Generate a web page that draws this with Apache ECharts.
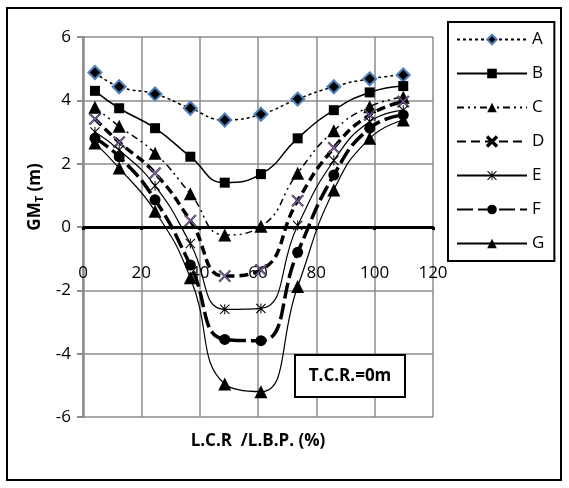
<!DOCTYPE html>
<html>
<head>
<meta charset="utf-8">
<script src="https://cdn.jsdelivr.net/npm/echarts@6/dist/echarts.min.js"></script>
<style>
  html, body { margin: 0; padding: 0; background: #fff; }
  #chart { width: 569px; height: 488px; }
</style>
</head>
<body>
<div id="chart"></div>
<script>
// L.C.R / L.B.P. (%)
const xVals = [4.1, 12.4, 24.7, 36.8, 48.6, 61, 73.6, 86, 98.3, 109.8];
// GM_T (m) for each case
const serA = [4.88, 4.43, 4.2, 3.75, 3.38, 3.56, 4.04, 4.43, 4.68, 4.8];
const serB = [4.3, 3.75, 3.12, 2.22, 1.4, 1.67, 2.8, 3.69, 4.25, 4.45];
const serC = [3.78, 3.18, 2.33, 1.05, -0.25, 0.02, 1.7, 3.04, 3.8, 4.1];
const serD = [3.41, 2.68, 1.7, 0.2, -1.55, -1.36, 0.83, 2.5, 3.54, 3.96];
const serE = [3.0, 2.43, 1.3, -0.52, -2.6, -2.57, 0.05, 2.1, 3.33, 3.69];
const serF = [2.8, 2.22, 0.86, -1.2, -3.55, -3.59, -0.8, 1.64, 3.12, 3.54];
const serG = [2.65, 1.86, 0.5, -1.6, -4.96, -5.2, -1.88, 1.17, 2.8, 3.38];
const names = ['A', 'B', 'C', 'D', 'E', 'F', 'G'];

const FONT = 'Open Sans';
const xMark = 'path://M0,2 L2,0 L10,8 L18,0 L20,2 L12,10 L20,18 L18,20 L10,12 L2,20 L0,18 L8,10 Z';
const starMark = 'path://M0,1.5 L1.5,0 L10,8.5 L18.5,0 L20,1.5 L11.5,10 L20,18.5 L18.5,20 L10,11.5 L1.5,20 L0,18.5 L8.5,10 Z M9,0 L11,0 L11,20 L9,20 Z';

function pairs(ys) {
    return ys.map((y, i) => [xVals[i], y]);
}

function mkSeries(name, ys, symbol, size, line, item) {
    return {
        name: name,
        type: 'line',
        smooth: 0.5,
        data: pairs(ys),
        symbol: symbol,
        symbolSize: size,
        lineStyle: line,
        itemStyle: item,
        emphasis: { disabled: true }
    };
}

const chart = echarts.init(document.getElementById('chart'));
const option = {
    animation: false,
    grid: { left: 83, top: 37, right: 136, bottom: 71 },
    legend: {
        orient: 'vertical',
        left: 448,
        top: 22,
        padding: [9, 10, 9, 8],
        itemWidth: 70,
        itemHeight: 12,
        itemGap: 17,
        borderColor: '#000',
        borderWidth: 2,
        textStyle: { fontFamily: FONT, fontSize: 17, color: '#000' },
        data: names
    },
    xAxis: {
        type: 'value',
        min: 0, max: 120, interval: 20,
        axisLine: { onZero: true, lineStyle: { color: '#000', width: 3 } },
        axisTick: { show: true, inside: false, length: 3, lineStyle: { color: '#000', width: 3 } },
        axisLabel: { margin: -152, fontFamily: FONT, fontSize: 17, color: '#000' },
        splitLine: { show: true, lineStyle: { color: '#8c8c8c', width: 1.5 } }
    },
    yAxis: {
        type: 'value',
        min: -6, max: 6, interval: 2,
        name: '{b|GM}{s|T}{b| (m)}',
        nameLocation: 'middle',
        nameGap: 38,
        nameTextStyle: {
            padding: [0, 0, 0, 60],
            rich: {
                b: { fontFamily: FONT, fontSize: 17, fontWeight: 'bold', color: '#000' },
                s: { fontFamily: FONT, fontSize: 11, fontWeight: 'bold', color: '#000', padding: [9, 0, 0, 0] }
            }
        },
        axisLine: { show: true, lineStyle: { color: '#8c8c8c', width: 2.5 } },
        axisTick: { show: true, length: 6, lineStyle: { color: '#8c8c8c', width: 2 } },
        axisLabel: { margin: 12, fontFamily: FONT, fontSize: 17, color: '#000' },
        splitLine: { show: true, lineStyle: { color: '#8c8c8c', width: 1.5 } }
    },
    graphic: [
        {
            type: 'rect', z: 100,
            shape: { x: 7, y: 8, width: 554, height: 472 },
            style: { fill: 'none', stroke: '#000', lineWidth: 2 }
        },
        {
            type: 'rect', z: 100,
            shape: { x: 295, y: 355, width: 110, height: 42 },
            style: { fill: '#fff', stroke: '#000', lineWidth: 2 }
        },
        {
            type: 'text', z: 101,
            x: 350, y: 376,
            style: {
                text: 'T.C.R.=0m', fontFamily: FONT, fontSize: 17, fontWeight: 'bold',
                fill: '#000', align: 'center', verticalAlign: 'middle'
            }
        },
        {
            type: 'text', z: 101,
            x: 258, y: 441,
            style: {
                text: 'L.C.R  /L.B.P. (%)', fontFamily: FONT, fontSize: 17, fontWeight: 'bold',
                fill: '#000', align: 'center', verticalAlign: 'middle'
            }
        }
    ],
    series: [
        mkSeries('A', serA, 'diamond', 13, { color: '#000', width: 1.5, type: [3, 3] },
            { color: '#000', borderColor: '#4f81bd', borderWidth: 2 }),
        mkSeries('B', serB, 'rect', 10, { color: '#000', width: 1.5, type: 'solid' },
            { color: '#000' }),
        mkSeries('C', serC, 'triangle', 13, { color: '#000', width: 1.5, type: [7, 4, 2, 4, 2, 4] },
            { color: '#000' }),
        mkSeries('D', serD, xMark, 12, { color: '#000', width: 3.5, type: [9, 5] },
            { color: '#7a5fa0', borderColor: '#000', borderWidth: 0.5 }),
        mkSeries('E', serE, starMark, 10, { color: '#000', width: 1.2, type: 'solid' },
            { color: '#000' }),
        mkSeries('F', serF, 'circle', 11, { color: '#000', width: 3.5, type: [16, 5] },
            { color: '#000' }),
        mkSeries('G', serG, 'triangle', 13, { color: '#000', width: 1.2, type: 'solid' },
            { color: '#000' })
    ]
};
chart.setOption(option);
</script>
</body>
</html>
